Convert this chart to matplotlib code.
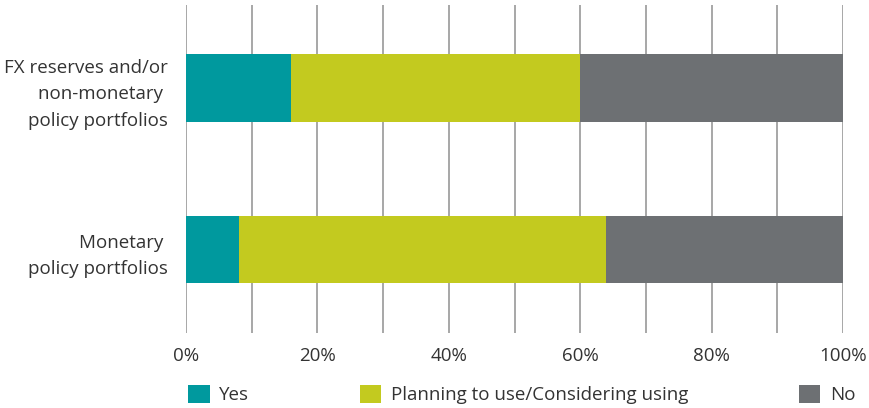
import numpy as np
import matplotlib.pyplot as plt

# data (percent)
categories = ["FX reserves and/or\nnon-monetary \npolicy portfolios",
              "Monetary \npolicy portfolios"]
yes = [16, 8]
planning = [44, 56]
no = [40, 36]
series_names = ["Yes", "Planning to use/Considering using", "No"]
colors = ["#00999e", "#c3ca1f", "#6d7073"]

plt.rcParams['font.family'] = ['Open Sans', 'DejaVu Sans']
fs = 13.5

fig = plt.figure(figsize=(8.69, 4.08), dpi=100)
ax = fig.add_axes([186/869, 1-333/408, (843-186)/869, 328/408])

ypos = np.array([1, 0])
left = np.zeros(2)
for vals, name, col in zip([yes, planning, no], series_names, colors):
    ax.barh(ypos, vals, left=left, height=0.415, color=col, label=name, zorder=3)
    left = left + np.array(vals)

ax.set_xlim(0, 100)
ax.set_ylim(-0.517, 1.514)
ax.xaxis.grid(True, color="#a0a0a0", linewidth=1.3, zorder=0)
ax.set_xticks(np.arange(0, 101, 10))
ax.set_xticklabels([f"{v}%" if v % 20 == 0 else "" for v in range(0, 101, 10)],
                   fontsize=fs, color="#333333")
ax.set_yticks(ypos)
ax.set_yticklabels(categories, fontsize=fs, color="#333333", linespacing=1.6)
ax.tick_params(axis="both", length=0)
ax.tick_params(axis="x", pad=10)
ax.tick_params(axis="y", pad=13)
for s in ax.spines.values():
    s.set_visible(False)

leg = ax.legend(loc="upper left", bbox_to_anchor=(-0.008, -0.135), ncol=3,
                frameon=False, fontsize=fs, handlelength=1.15, handleheight=1.15,
                handletextpad=0.5, columnspacing=5.9, borderaxespad=0)
for t in leg.get_texts():
    t.set_color("#333333")

fig.savefig("out.png", dpi=100)
